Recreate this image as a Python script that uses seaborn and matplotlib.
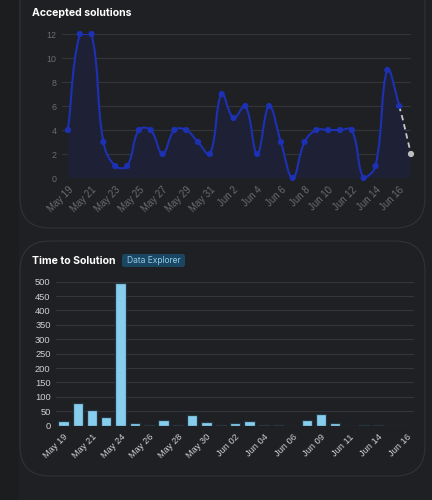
import numpy as np
import seaborn as sns
import matplotlib
matplotlib.use("Agg")
import matplotlib.pyplot as plt
from matplotlib.path import Path
from matplotlib.patches import PathPatch, FancyBboxPatch, Rectangle

# ---- data: accepted solutions per day ----
solution_dates = ["May 19", "May 20", "May 21", "May 22", "May 23", "May 24",
                  "May 25", "May 26", "May 27", "May 28", "May 29", "May 30",
                  "May 31", "Jun 1", "Jun 2", "Jun 3", "Jun 4", "Jun 5",
                  "Jun 6", "Jun 7", "Jun 8", "Jun 9", "Jun 10", "Jun 11",
                  "Jun 12", "Jun 13", "Jun 14", "Jun 15", "Jun 16", "Jun 17"]
solution_counts = [4, 12, 12, 3, 1, 1, 4, 4, 2, 4, 4, 3, 2, 7, 5, 6, 2, 6,
                   3, 0, 3, 4, 4, 4, 4, 0, 1, 9, 6, 2]

# ---- data: time to solution per day ----
tts_dates = ["May 19", "May 20", "May 21", "May 22", "May 24", "May 25",
             "May 26", "May 27", "May 28", "May 29", "May 30", "Jun 01",
             "Jun 02", "Jun 03", "Jun 04", "Jun 05", "Jun 06", "Jun 08",
             "Jun 09", "Jun 10", "Jun 11", "Jun 12", "Jun 14", "Jun 15",
             "Jun 16"]
tts_values = [16, 80, 55, 31, 496, 8, 2, 19, 1, 37, 12, 1, 8, 18, 2, 1, 0.5,
              21, 42, 8, 0.5, 1, 2, 0.5, 0.5]

BG = "#1f2023"
W, H = 432, 500

sns.set_style("dark")
plt.rcParams["font.family"] = ["Liberation Sans", "DejaVu Sans"]

fig = plt.figure(figsize=(W / 100, H / 100), dpi=100, facecolor=BG)


def px_axes(left, top, right, bottom, **kw):
    return fig.add_axes([left / W, 1 - bottom / H, (right - left) / W,
                         (bottom - top) / H], **kw)


# background layer with the two rounded cards
bg = px_axes(0, 0, W, H, zorder=-10)
bg.set_xlim(0, W)
bg.set_ylim(H, 0)
bg.axis("off")
bg.add_patch(Rectangle((0, 0), 19, H, color="#1c1d1f", lw=0))
for top, bottom in [(-30, 228), (241, 476)]:
    bg.add_patch(FancyBboxPatch((20, top), 405, bottom - top,
                                boxstyle="round,pad=0,rounding_size=30",
                                facecolor=BG, edgecolor="#323337", lw=0.8))

title_font = dict(family=["Inter", "DejaVu Sans"], weight="bold",
                  color="white", fontsize=7.6, va="center", ha="left")
bg.text(32, 12.5, "Accepted solutions", **title_font)
bg.text(32, 260.5, "Time to Solution", **title_font)
bg.add_patch(FancyBboxPatch((122, 254), 63, 13,
                            boxstyle="round,pad=0,rounding_size=2.5",
                            facecolor="#1b4661", edgecolor="none"))
bg.text(153.5, 260.8, "Data Explorer", color="#8fcdea", fontsize=6.1,
        ha="center", va="center", family=["Inter", "DejaVu Sans"])

# ---- line chart ----
ax1 = px_axes(62, 34, 411, 178)
ax1.set_facecolor("none")
n = len(solution_counts)
xs = np.arange(n, dtype=float)
ys = np.array(solution_counts, dtype=float)
ax1.set_xlim(-0.5, n - 1)
ax1.set_ylim(0, 12)

# chart.js style spline (tension 0.4), computed in pixel space
sx, sy = 343 / (n - 1), 12.0
P = np.column_stack([xs * sx, ys * sy])
t = 0.4
cp_prev = np.zeros_like(P)
cp_next = np.zeros_like(P)
for i in range(n):
    prev = P[i - 1] if i > 0 else P[i]
    nxt = P[i + 1] if i < n - 1 else P[i]
    d01 = np.hypot(*(P[i] - prev))
    d12 = np.hypot(*(nxt - P[i]))
    tot = d01 + d12
    s01 = d01 / tot if tot else 0
    s12 = d12 / tot if tot else 0
    cp_prev[i] = P[i] - t * s01 * (nxt - prev)
    cp_next[i] = P[i] + t * s12 * (nxt - prev)
for cp in (cp_prev, cp_next):
    cp[:, 0] = np.clip(cp[:, 0] / sx, 0, n - 1)
    cp[:, 1] = np.clip(cp[:, 1] / sy, 0, 12)


def curve(i0, i1):
    verts = [(xs[i0], ys[i0])]
    codes = [Path.MOVETO]
    for i in range(i0, i1):
        verts += [tuple(cp_next[i]), tuple(cp_prev[i + 1]), (xs[i + 1], ys[i + 1])]
        codes += [Path.CURVE4] * 3
    return verts, codes


v, c = curve(0, n - 1)
fill_v = v + [(xs[-1], 0), (xs[0], 0), (xs[0], ys[0])]
fill_c = c + [Path.LINETO, Path.LINETO, Path.CLOSEPOLY]
ax1.add_patch(PathPatch(Path(fill_v, fill_c), facecolor="#1e2135",
                        edgecolor="none", zorder=1))
v, c = curve(0, n - 2)
ax1.add_patch(PathPatch(Path(v, c), facecolor="none", edgecolor="#1c31b3",
                        lw=1.5, zorder=3, capstyle="round"))
v, c = curve(n - 2, n - 1)
ax1.add_patch(PathPatch(Path(v, c), facecolor="none", edgecolor="#c8c8c8",
                        lw=1.3, ls=(0, (3, 2.2)), zorder=3))
sns.scatterplot(x=xs[:-1], y=ys[:-1], ax=ax1, color="#1c31b3", s=20,
                edgecolor="none", zorder=4, clip_on=False)
sns.scatterplot(x=xs[-1:], y=ys[-1:], ax=ax1, color="#bdbdbd", s=20,
                edgecolor="none", zorder=4, clip_on=False)

ax1.set_yticks(range(0, 13, 2))
ax1.set_xticks(xs[::2])
ax1.set_xticklabels(solution_dates[::2], rotation=45, ha="right",
                    rotation_mode="anchor")
ax1.tick_params(axis="both", colors="#6c6c6c", length=0)
ax1.tick_params(axis="y", pad=4, labelsize=6.4)
ax1.tick_params(axis="x", pad=5, labelsize=6.9)
ax1.grid(axis="y", color="#333539", lw=0.8)
ax1.grid(axis="x", visible=False)
for s in ax1.spines.values():
    s.set_visible(False)
ax1.set_xlabel("")
ax1.set_ylabel("")

# ---- bar chart ----
ax2 = px_axes(56.2, 281.7, 414, 425.7)
ax2.set_facecolor("none")
sns.barplot(x=tts_dates, y=tts_values, ax=ax2, color="#86cdee", width=0.72,
            edgecolor="#263640", linewidth=0.9, saturation=1, zorder=3)
ax2.set_xlim(-0.5, len(tts_dates) - 0.5)
ax2.set_ylim(0, 500)
ax2.set_yticks(range(0, 501, 50))
ax2.set_xticks(range(0, len(tts_dates), 2))
ax2.set_xticklabels(tts_dates[::2], rotation=45, ha="right",
                    rotation_mode="anchor")
ax2.tick_params(axis="both", colors="#cfcfcf", labelsize=6.7, length=0)
ax2.tick_params(axis="y", pad=4)
ax2.tick_params(axis="x", pad=5)
ax2.grid(axis="y", color="#333539", lw=0.8)
ax2.grid(axis="x", visible=False)
for s in ax2.spines.values():
    s.set_visible(False)
ax2.set_xlabel("")
ax2.set_ylabel("")

fig.savefig("out.png", dpi=100, facecolor=BG)
